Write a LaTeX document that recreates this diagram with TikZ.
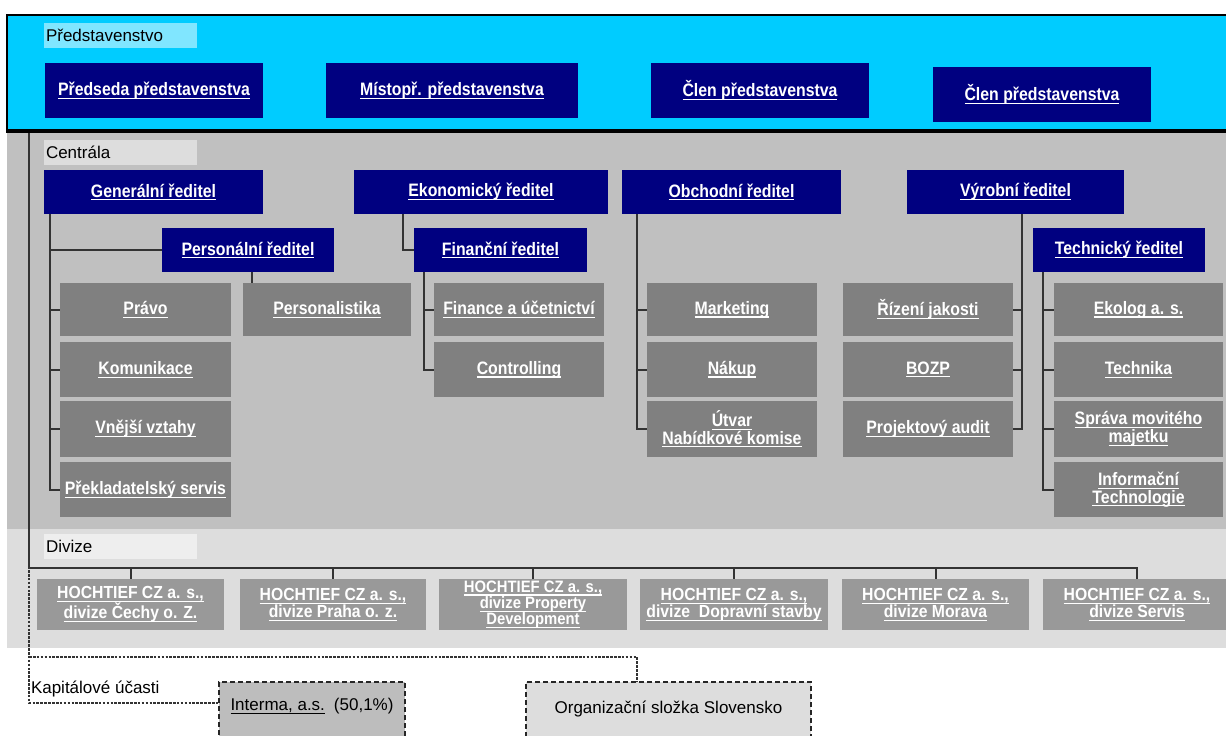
\documentclass[tikz,border=0pt]{standalone}
\usepackage{fontspec}
\setmainfont{Liberation Sans}
\newfontfamily\boxfont[FakeStretch=0.88]{Liberation Sans}
\newfontfamily\divfont[FakeStretch=0.9]{Liberation Sans}
\newsavebox\ulbox
\newcommand{\ulx}[1]{\leavevmode\sbox\ulbox{#1}\rlap{\rule[-3.4pt]{\wd\ulbox}{1.2pt}}\usebox\ulbox}
\usetikzlibrary{calc}
\definecolor{bandcyan}{HTML}{00CCFF}
\definecolor{lblcyan}{HTML}{80E6FF}
\definecolor{navy}{HTML}{000080}
\definecolor{bandgrey}{HTML}{C0C0C0}
\definecolor{lblgrey}{HTML}{DDDDDD}
\definecolor{unitgrey}{HTML}{808080}
\definecolor{divband}{HTML}{DDDDDD}
\definecolor{divlbl}{HTML}{EEEEEE}
\definecolor{divgrey}{HTML}{999999}
\definecolor{linegrey}{HTML}{333333}
\definecolor{intgrey}{HTML}{BDBDBD}
\begin{document}
\begin{tikzpicture}[x=1pt,y=-1pt,
  every node/.style={inner sep=0pt, outer sep=0pt},
  navybox/.style={fill=navy, text=white, align=center, font=\boxfont\bfseries\fontsize{18}{17.5}\selectfont},
  unitbox/.style={fill=unitgrey, text=white, align=center, minimum width=170pt, font=\boxfont\bfseries\fontsize{18}{17.5}\selectfont},
  divbox/.style={fill=divgrey, text=white, align=center, minimum height=51pt, font=\divfont\bfseries\fontsize{17.5}{17}\selectfont},
  lblbox/.style={anchor=north west, minimum height=25pt, text width=149pt, inner xsep=2pt, align=left, text=black, font=\fontsize{17}{17}\selectfont},
  conn/.style={draw=linegrey, line width=2pt},
  dotline/.style={draw=linegrey, line width=2.6pt, dash pattern=on 2.6pt off 1.3pt},
  dashbox/.style={draw=black!85, line width=1.3pt, dash pattern=on 5pt off 3pt, minimum height=60pt, anchor=north west, text=black, font=\fontsize{17}{17}\selectfont}
]
\useasboundingbox (0,0) rectangle (1226,736);
\fill[white] (0,0) rectangle (1226,736);
% bands
\fill[bandgrey] (7,132) rectangle (1232,529);
\fill[divband] (7,529) rectangle (1232,648);
\fill[bandcyan] (7,15) rectangle (1232,132);
\draw[black, line width=2pt] (7,15) rectangle (1232,132);
\draw[black, line width=3.5pt] (6,131) -- (1232,131);
% labels
\node[lblbox, fill=lblcyan] (lp) at (44,23) {Představenstvo};
\node[lblbox, fill=lblgrey] (lc) at (44,140) {Centrála};
\node[lblbox, fill=divlbl] (ld) at (44,534) {Divize};
% board
\node[navybox, minimum width=218pt, minimum height=55pt] (pred) at (154,90.5) {\ulx{Předseda představenstva}};
\node[navybox, minimum width=252pt, minimum height=55pt] (mist) at (452,90.5) {\ulx{Místopř. představenstva}};
\node[navybox, minimum width=218pt, minimum height=55pt] (clen1) at (760,90.5) {\ulx{Člen představenstva}};
\node[navybox, minimum width=218pt, minimum height=55pt] (clen2) at (1042,94.5) {\ulx{Člen představenstva}};
% directors
\node[navybox, minimum width=219pt, minimum height=44pt] (gen) at (153.5,192) {\ulx{Generální ředitel}};
\node[navybox, minimum width=172pt, minimum height=44pt] (pers) at (248,250) {\ulx{Personální ředitel}};
\node[navybox, minimum width=254pt, minimum height=44pt] (eko) at (481,192) {\ulx{Ekonomický ředitel}};
\node[navybox, minimum width=173pt, minimum height=44pt] (fin) at (500.5,250) {\ulx{Finanční ředitel}};
\node[navybox, minimum width=219pt, minimum height=44pt] (obch) at (731.5,192) {\ulx{Obchodní ředitel}};
\node[navybox, minimum width=217pt, minimum height=44pt] (vyr) at (1015.5,192) {\ulx{Výrobní ředitel}};
\node[navybox, minimum width=172pt, minimum height=44pt] (tech) at (1119,250) {\ulx{Technický ředitel}};
% units
\node[unitbox, minimum width=171pt, minimum height=53pt] (pravo) at (145.5,309.5) {\ulx{Právo}};
\node[unitbox, minimum width=171pt, minimum height=55pt] (komun) at (145.5,369.5) {\ulx{Komunikace}};
\node[unitbox, minimum width=171pt, minimum height=56pt] (vnejsi) at (145.5,429) {\ulx{Vnější vztahy}};
\node[unitbox, minimum width=171pt, minimum height=55pt] (prek) at (145.5,489.5) {\ulx{Překladatelský servis}};
\node[unitbox, minimum width=168pt, minimum height=53pt] (perso) at (327,309.5) {\ulx{Personalistika}};
\node[unitbox, minimum height=53pt] (finu) at (519,309.5) {\ulx{Finance a účetnictví}};
\node[unitbox, minimum height=55pt] (contr) at (519,369.5) {\ulx{Controlling}};
\node[unitbox, minimum height=53pt] (mkt) at (732,309.5) {\ulx{Marketing}};
\node[unitbox, minimum height=55pt] (nakup) at (732,369.5) {\ulx{Nákup}};
\node[unitbox, minimum height=56pt] (utvar) at (732,429) {\ulx{Útvar}\\\ulx{Nabídkové komise}};
\node[unitbox, minimum height=53pt] (riz) at (928,309.5) {\ulx{Řízení jakosti}};
\node[unitbox, minimum height=55pt] (bozp) at (928,369.5) {\ulx{BOZP}};
\node[unitbox, minimum height=56pt] (proj) at (928,429) {\ulx{Projektový audit}};
\node[unitbox, minimum width=169pt, minimum height=53pt] (ekolog) at (1138.5,309.5) {\ulx{Ekolog a. s.}};
\node[unitbox, minimum width=169pt, minimum height=55pt] (techn) at (1138.5,369.5) {\ulx{Technika}};
\node[unitbox, minimum width=169pt, minimum height=56pt] (sprava) at (1138.5,429) {\ulx{Správa movitého}\\\ulx{majetku}};
\node[unitbox, minimum width=169pt, minimum height=55pt] (info) at (1138.5,489.5) {\ulx{Informační}\\\ulx{Technologie}};
% connectors centrala
\coordinate (gx) at ([xshift=6pt]gen.south west);
\draw[conn] (gx) |- (prek.west);
\draw[conn] (gx |- pers.west) -- (pers.west);
\draw[conn] (gx |- pravo.west) -- (pravo.west);
\draw[conn] (gx |- komun.west) -- (komun.west);
\draw[conn] (gx |- vnejsi.west) -- (vnejsi.west);
\coordinate (px) at ([xshift=9pt]perso.north west);
\draw[conn] (px |- pers.south) -- (px);
\coordinate (ex) at ([xshift=49pt]eko.south west);
\draw[conn] (ex) |- (fin.west);
\coordinate (fx) at ([xshift=10pt]fin.south west);
\draw[conn] (fx) |- (contr.west);
\draw[conn] (fx |- finu.west) -- (finu.west);
\coordinate (ox) at ([xshift=15pt]obch.south west);
\draw[conn] (ox) |- (utvar.west);
\draw[conn] (ox |- mkt.west) -- (mkt.west);
\draw[conn] (ox |- nakup.west) -- (nakup.west);
\coordinate (vx) at ([xshift=6.5pt]vyr.south);
\draw[conn] (vx) |- (proj.east);
\draw[conn] (vx |- riz.east) -- (riz.east);
\draw[conn] (vx |- bozp.east) -- (bozp.east);
\coordinate (tx) at ([xshift=10pt]tech.south west);
\draw[conn] (tx) |- (info.west);
\draw[conn] (tx |- ekolog.west) -- (ekolog.west);
\draw[conn] (tx |- techn.west) -- (techn.west);
\draw[conn] (tx |- sprava.west) -- (sprava.west);
% divisions
\node[divbox, minimum width=187pt] (d1) at (130.5,604.5) {\ulx{HOCHTIEF CZ a. s.,}\\\ulx{divize Čechy o. Z.}};
\node[divbox, minimum width=186pt] (d2) at (333,604.5) {\ulx{HOCHTIEF CZ a. s.,}\\\ulx{divize Praha o. z.}};
\node[divbox, minimum width=188pt, font=\divfont\bfseries\fontsize{16.5}{13.5}\selectfont] (d3) at (533,604.5) {\ulx{HOCHTIEF CZ a. s.,}\\\ulx{divize Property}\\\ulx{Development}};
\node[divbox, minimum width=188pt] (d4) at (734,604.5) {\ulx{HOCHTIEF CZ a. s.,}\\\ulx{divize\ \ Dopravní stavby}};
\node[divbox, minimum width=187pt] (d5) at (935.5,604.5) {\ulx{HOCHTIEF CZ a. s.,}\\\ulx{divize Morava}};
\node[divbox, minimum width=188pt] (d6) at (1137,604.5) {\ulx{HOCHTIEF CZ a. s.,}\\\ulx{divize Servis}};
% main line
\coordinate (m0) at (29,133);
\coordinate (m1) at (29,568);
\draw[conn] (m0) -- (m1) -- (m1 -| d6.north) -- (d6.north);
\draw[conn] (m1 -| d1.north) -- (d1.north);
\draw[conn] (m1 -| d2.north) -- (d2.north);
\draw[conn] (m1 -| d3.north) -- (d3.north);
\draw[conn] (m1 -| d4.north) -- (d4.north);
\draw[conn] (m1 -| d5.north) -- (d5.north);
% capital participations
\node[dashbox, fill=intgrey, minimum width=186pt] (interma) at (219,682) {\raisebox{1.5pt}[0pt][0pt]{\ulx{Interma, a.s.}\hspace{9pt}(50,1\%)}};
\node[dashbox, fill=lblgrey, minimum width=285pt] (org) at (526,682) {\raisebox{-1pt}[0pt][0pt]{Organizační složka Slovensko}};
\node[anchor=west, text=black, font=\fontsize{17}{17}\selectfont] (kap) at (31,689) {Kapitálové účasti};
\coordinate (dtop) at (29,570);
\coordinate (k) at (29,703);
\coordinate (u) at (29,657);
\coordinate (u2) at (637,657);
\draw[dotline] (dtop) -- (k) -- (k -| interma.west);
\draw[dotline] (u) -- (u2) -- (u2 |- org.north);
\end{tikzpicture}
\end{document}
